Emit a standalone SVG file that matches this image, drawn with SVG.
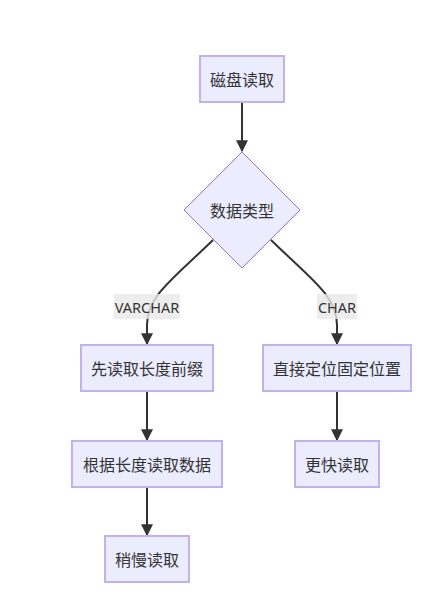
<svg xmlns="http://www.w3.org/2000/svg" width="444" height="597" viewBox="0 0 444 597">
<style>
.node rect{fill:#ECECFF;stroke:#C3B1EE;stroke-width:2}
.node polygon{fill:#ECECFF;stroke:#9370DB;stroke-width:1}
.node text{font-family:"Noto Sans CJK SC","Noto Sans",sans-serif;font-size:16px;fill:#333;text-anchor:middle;dominant-baseline:central}
.edge{fill:none;stroke:#333;stroke-width:2}
.lbl rect{fill:#e8e8e8;opacity:0.8}
.lbl text{font-family:"Noto Sans","Noto Sans CJK SC",sans-serif;font-size:14.5px;fill:#333;text-anchor:middle;dominant-baseline:central}
</style>
<defs>
<marker id="arrow" viewBox="0 0 10 10" refX="9" refY="5" markerWidth="12" markerHeight="12" markerUnits="userSpaceOnUse" orient="auto">
<path d="M0,0 L10,5 L0,10 z" fill="#333"/>
</marker>
</defs>
<rect width="444" height="597" fill="#fff"/>
<g id="connectors">
<path class="edge" d="M242,102 L242,151" marker-end="url(#arrow)"/>
<path class="edge" d="M213,240 C172,280 147,296 147,325 L147,344" marker-end="url(#arrow)"/>
<path class="edge" d="M271,240 C312,280 337,296 337,325 L337,344" marker-end="url(#arrow)"/>
<path class="edge" d="M147,392 L147,440" marker-end="url(#arrow)"/>
<path class="edge" d="M337,392 L337,440" marker-end="url(#arrow)"/>
<path class="edge" d="M147,487 L147,535" marker-end="url(#arrow)"/>
<g class="lbl"><rect x="114" y="294" width="66" height="25"/><text x="147" y="306.5">VARCHAR</text></g>
<g class="lbl"><rect x="317" y="294" width="40" height="25"/><text x="337" y="306.5">CHAR</text></g>
</g>
<g id="n1" class="node"><rect x="200" y="56" width="84" height="46"/><text x="242" y="79">磁盘读取</text></g>
<g id="n2" class="node"><polygon points="242,152 300,210 242,268 184,210"/><text x="242" y="210">数据类型</text></g>
<g id="n3" class="node"><rect x="81" y="345" width="132" height="46"/><text x="147" y="368">先读取长度前缀</text></g>
<g id="n4" class="node"><rect x="263" y="345" width="148" height="46"/><text x="337" y="368">直接定位固定位置</text></g>
<g id="n5" class="node"><rect x="72" y="441" width="150" height="46"/><text x="147" y="464">根据长度读取数据</text></g>
<g id="n6" class="node"><rect x="295" y="441" width="84" height="46"/><text x="337" y="464">更快读取</text></g>
<g id="n7" class="node"><rect x="105" y="536" width="84" height="46"/><text x="147" y="559">稍慢读取</text></g>
</svg>
